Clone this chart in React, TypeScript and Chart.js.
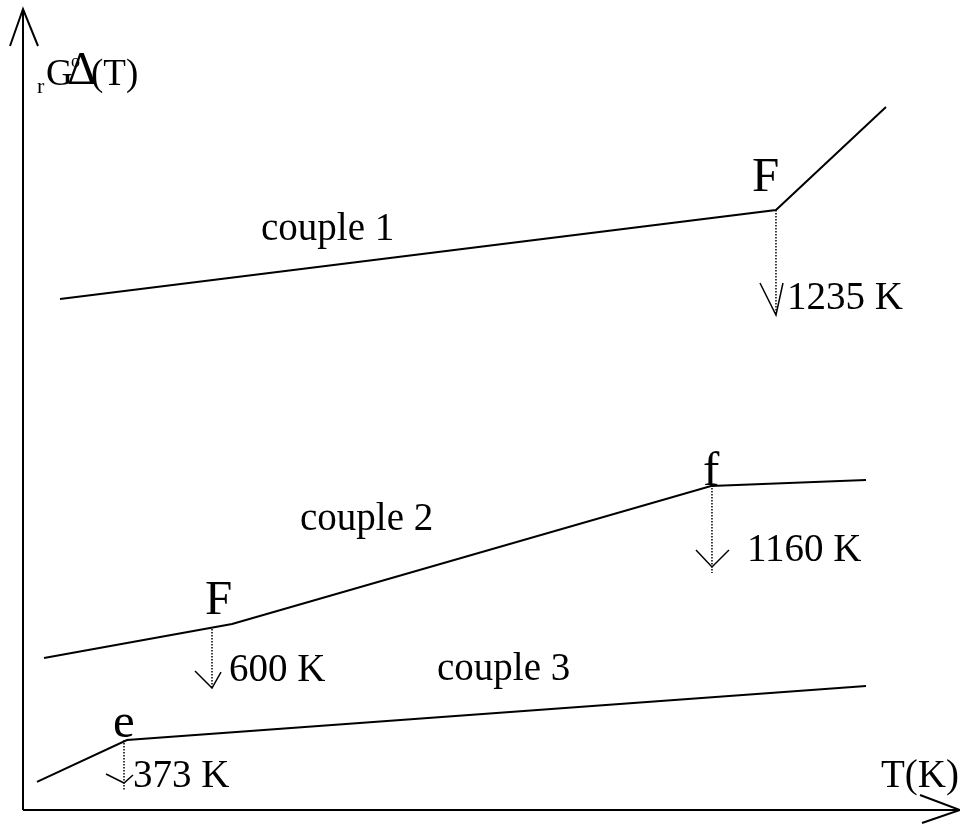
import React, { useEffect, useRef } from "react";
import { Chart, registerables } from "chart.js";
Chart.register(...registerables);

// Schematic abscissa (0-100) and ordinate (0-100) of each line's vertices
const couple1X = [3.95, 80.36, 92.1];
const couple1Y = [63.8, 74.91, 87.77];
const couple2X = [2.24, 22.31, 73.43, 89.97];
const couple2Y = [18.98, 23.22, 40.45, 41.2];
const couple3X = [1.49, 11.1, 89.97];
const couple3Y = [3.5, 8.74, 15.48];

// Phase transitions
const transLabels = ["1235 K", "1160 K", "600 K", "373 K"];
const transLetters = ["F", "f", "F", "e"];
const transX = [80.36, 73.53, 20.17, 10.78];
const transTop = [74.91, 40.57, 22.6, 8.74];
const transBottom = [61.8, 29.59, 15.23, 2.5];
const transTip = [61.8, 30.34, 15.23, 3.37];
const coupleLabels = ["couple 1", "couple 2", "couple 3"];

const FONT = "'Liberation Serif', 'Times New Roman', serif";

const pts = (xs: number[], ys: number[]) => xs.map((x, i) => ({ x, y: ys[i] }));

export default function App() {
  const ref = useRef<HTMLCanvasElement | null>(null);
  useEffect(() => {
    if (!ref.current) return;
    const arrowArms = [
      [-16, -32, 7, -32],
      [-16, -17, 17, -17],
      [-17, -17, 9, -16],
      [-18, -9, 9, -8],
    ];
    const labelPos = [
      [787, 309],
      [747, 561],
      [229, 681],
      [133, 787],
    ];
    const letterPos = [
      [752, 191],
      [703, 485],
      [205, 614],
      [113, 737],
    ];
    const couplePos = [
      [261, 240],
      [300, 530],
      [437, 680],
    ];
    const deco = {
      id: "deco",
      afterDraw(chart: any) {
        const ctx = chart.ctx;
        const xs = chart.scales.x;
        const ys = chart.scales.y;
        const { left, bottom, top, right } = chart.chartArea;
        ctx.save();
        ctx.strokeStyle = "#000";
        ctx.lineWidth = 2;
        ctx.lineCap = "butt";
        // axes
        ctx.beginPath();
        ctx.moveTo(left, bottom);
        ctx.lineTo(left, top);
        ctx.moveTo(left - 13, top + 37);
        ctx.lineTo(left, top);
        ctx.lineTo(left + 15, top + 37);
        ctx.moveTo(left, bottom);
        ctx.lineTo(right, bottom);
        ctx.moveTo(right - 40, bottom - 15);
        ctx.lineTo(right, bottom);
        ctx.lineTo(right - 38, bottom + 13);
        ctx.stroke();
        // transition arrows
        ctx.lineWidth = 1.5;
        transX.forEach((tx, i) => {
          const px = xs.getPixelForValue(tx);
          const py = ys.getPixelForValue(transTip[i]);
          const a = arrowArms[i];
          ctx.beginPath();
          ctx.moveTo(px + a[0], py + a[1]);
          ctx.lineTo(px, py);
          ctx.lineTo(px + a[2], py + a[3]);
          ctx.stroke();
        });
        // texts
        ctx.fillStyle = "#000";
        ctx.textBaseline = "alphabetic";
        ctx.textAlign = "left";
        ctx.font = `39px ${FONT}`;
        transLabels.forEach((t, i) => ctx.fillText(t, labelPos[i][0], labelPos[i][1]));
        coupleLabels.forEach((t, i) => ctx.fillText(t, couplePos[i][0], couplePos[i][1]));
        ctx.fillText("T(K)", 881, 787);
        ctx.font = `49px ${FONT}`;
        transLetters.forEach((t, i) => ctx.fillText(t, letterPos[i][0], letterPos[i][1]));
        // y label: Δ r G ° (T)
        ctx.font = `22px ${FONT}`;
        ctx.fillText("r", 37, 93);
        ctx.font = `37px ${FONT}`;
        ctx.fillText("G", 46, 85);
        ctx.fillText("(T)", 91, 85);
        ctx.font = `46px ${FONT}`;
        ctx.fillText("Δ", 67, 84);
        ctx.font = `18px ${FONT}`;
        ctx.fillText("o", 71, 67);
        ctx.restore();
      },
    };
    const lineDs = (data: any) => ({
      data,
      showLine: true,
      borderColor: "#000",
      borderWidth: 2,
      pointRadius: 0,
      fill: false,
      tension: 0,
    });
    const dotDs = transX.map((tx, i) => ({
      data: [
        { x: tx, y: transTop[i] },
        { x: tx, y: transBottom[i] },
      ],
      showLine: true,
      borderColor: "#000",
      borderWidth: 1.5,
      borderDash: [1.5, 1.5],
      pointRadius: 0,
      fill: false,
    }));
    const chart = new Chart(ref.current, {
      type: "scatter",
      data: {
        datasets: [
          lineDs(pts(couple1X, couple1Y)),
          lineDs(pts(couple2X, couple2Y)),
          lineDs(pts(couple3X, couple3Y)),
          ...dotDs,
        ] as any,
      },
      options: {
        animation: false,
        responsive: false,
        devicePixelRatio: 1,
        layout: { padding: { left: 23, right: 0, top: 9, bottom: 15 } },
        plugins: { legend: { display: false }, tooltip: { enabled: false } },
        scales: {
          x: { type: "linear", min: 0, max: 100, display: false },
          y: { type: "linear", min: 0, max: 100, display: false },
        },
      },
      plugins: [deco],
    });
    return () => chart.destroy();
  }, []);
  return (
    <div style={{ position: "absolute", left: 0, top: 0, width: 960, height: 825, background: "#fff" }}>
      <canvas ref={ref} width={960} height={825} style={{ display: "block" }} />
    </div>
  );
}
